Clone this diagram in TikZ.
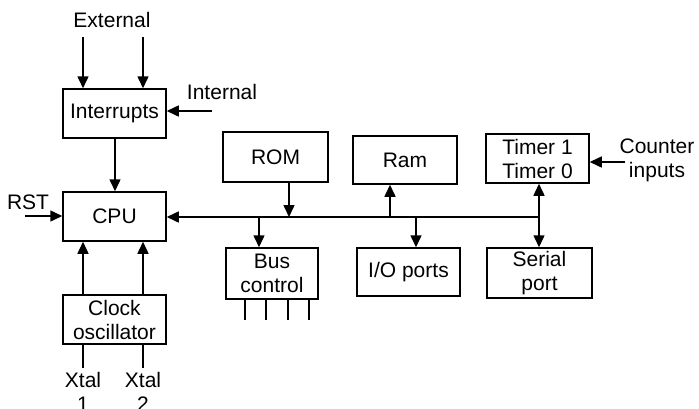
\documentclass[tikz,border=0pt]{standalone}
\usepackage{fontspec}
\setmainfont{Liberation Sans}
\usetikzlibrary{arrows.meta}
\begin{document}
\begin{tikzpicture}[x=1pt,y=-1pt,
  every node/.style={font=\fontsize{21}{24}\selectfont, inner sep=0pt, align=center},
  blk/.style={draw, line width=1.5pt, minimum width=103pt, minimum height=49pt},
  arr/.style={line width=1.5pt, -{Triangle[length=12pt,width=11pt]}},
  darr/.style={line width=1.5pt, {Triangle[length=12pt,width=11pt]}-{Triangle[length=12pt,width=11pt]}},
  ln/.style={line width=1.5pt}]
\useasboundingbox (0,0) rectangle (699,408);
% blocks
\node[blk] (intr) at (114.5,113.5) {Interrupts};
\node[blk] (cpu) at (114.5,216.5) {CPU};
\node[blk] (clk) at (114.5,319.5) {Clock\\oscillator};
\node[blk, minimum width=105pt, minimum height=50pt] (rom) at (275.5,157) {ROM};
\node[blk, minimum width=104pt, minimum height=48pt] (ram) at (405,160) {Ram};
\node[blk] (tmr) at (537.5,158.5) {Timer 1\\Timer 0};
\node[blk, minimum width=92pt, minimum height=51pt] (bus) at (272,273.5) {Bus\\control};
\node[blk, minimum height=48pt] (io) at (408.5,272) {I/O ports};
\node[blk, minimum width=105pt, minimum height=50pt] (ser) at (539.5,273) {Serial\\port};
% labels
\node (ext) at (112,20) {External};
\node (int) at (222,92) {Internal};
\node (rst) at (28,202) {RST};
\node (cnt) at (657,160) {Counter\\inputs};
\node (x1) at (83,392) {Xtal\\1};
\node (x2) at (143,392) {Xtal\\2};
% coordinates
\coordinate (e1) at (83,37);
\coordinate (e2) at (143,37);
\coordinate (ie) at (212,111);
\coordinate (rs) at (25,216);
\coordinate (bR) at (539,217);
\coordinate (bROM) at (289,217);
\coordinate (bRam) at (390,217);
\coordinate (bBus) at (259,217);
\coordinate (bIO) at (416,217);
\coordinate (ci) at (625,162);
\coordinate (ic) at (115,0);
% connectors
\draw[arr] (e1) -- (intr.north -| e1);
\draw[arr] (e2) -- (intr.north -| e2);
\draw[arr] (ie) -- (intr.east |- ie);
\draw[arr] (intr.south -| ic) -- (cpu.north -| ic);
\draw[arr] (rs) -- (cpu.west |- rs);
\draw[arr] (clk.north -| e1) -- (cpu.south -| e1);
\draw[arr] (clk.north -| e2) -- (cpu.south -| e2);
\draw[ln] (clk.south -| e1) -- ++(0,23);
\draw[ln] (clk.south -| e2) -- ++(0,23);
\draw[arr] (bR) -- (cpu.east |- bR);
\draw[arr] (rom.south -| bROM) -- (bROM);
\draw[arr] (bRam) -- (ram.south -| bRam);
\draw[arr] (bBus) -- (bus.north -| bBus);
\draw[arr] (bIO) -- (io.north -| bIO);
\draw[darr] (tmr.south -| bR) -- (ser.north -| bR);
\draw[arr] (ci) -- (tmr.east |- ci);
\foreach \x in {245,266,288,309} \draw[ln] (\x,299) -- (\x,320);
\end{tikzpicture}
\end{document}
